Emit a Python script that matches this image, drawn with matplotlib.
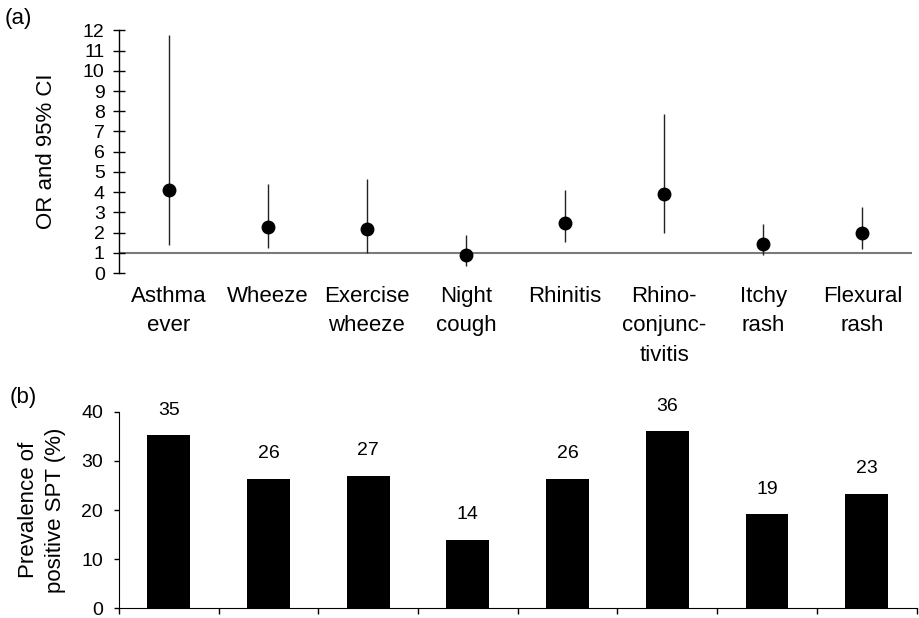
import numpy as np
import matplotlib.pyplot as plt

plt.rcParams['font.family'] = ['Liberation Sans', 'DejaVu Sans']

categories = ['Asthma\never', 'Wheeze', 'Exercise\nwheeze', 'Night\ncough',
              'Rhinitis', 'Rhino-\nconjunc-\ntivitis', 'Itchy\nrash', 'Flexural\nrash']
odds_ratio = [4.1, 2.3, 2.2, 0.9, 2.5, 3.9, 1.45, 2.0]
ci_lower = [1.38, 1.22, 1.0, 0.36, 1.55, 2.0, 0.92, 1.2]
ci_upper = [11.75, 4.4, 4.65, 1.9, 4.1, 7.85, 2.45, 3.27]
prevalence = [35.2, 26.3, 27.0, 13.9, 26.3, 36.0, 19.1, 23.3]
prevalence_labels = ['35', '26', '27', '14', '26', '36', '19', '23']

x = np.arange(len(categories))
fs_big = 16
fs_small = 14

fig = plt.figure(figsize=(9.2, 6.18), dpi=100)

# (a) odds ratios with 95% CI
ax1 = fig.add_axes([0.1293, 0.558, 0.862, 0.393])
yerr = [np.array(odds_ratio) - np.array(ci_lower), np.array(ci_upper) - np.array(odds_ratio)]
ax1.axhline(1, color='#7a7a7a', lw=1.5, zorder=1)
ax1.errorbar(x, odds_ratio, yerr=yerr, fmt='o', color='black', ms=9,
             ecolor='#222222', elinewidth=1, capsize=0, zorder=3)
ax1.set_xlim(-0.5, len(categories) - 0.5)
ax1.set_ylim(0, 12)
ax1.set_yticks(range(0, 13))
ax1.set_xticks(x)
ax1.set_xticklabels(categories, fontsize=fs_big, linespacing=1.55)
ax1.tick_params(axis='x', length=0, pad=9)
ax1.tick_params(axis='y', direction='inout', length=8.5, width=1, labelsize=fs_small, pad=6)
for s in ['top', 'right', 'bottom']:
    ax1.spines[s].set_visible(False)
ax1.spines['left'].set_linewidth(1)
ax1.set_ylabel('OR and 95% CI', fontsize=fs_big, labelpad=19)
fig.text(0.005, 0.97, '(a)', fontsize=fs_big, va='center')

# (b) prevalence of positive SPT
ax2 = fig.add_axes([0.1293, 0.0157, 0.867, 0.3181])
ax2.bar(x, prevalence, width=0.43, color='black')
for xi, v, lab in zip(x, prevalence, prevalence_labels):
    ax2.text(xi, v + 3.4, lab, ha='center', va='bottom', fontsize=fs_small)
ax2.set_xlim(-0.5, len(categories) - 0.5)
ax2.set_ylim(0, 40)
ax2.set_yticks([0, 10, 20, 30, 40])
ax2.set_xticks(np.arange(-0.5, len(categories)))
ax2.set_xticklabels([])
ax2.tick_params(axis='x', direction='out', length=4, width=1)
ax2.tick_params(axis='y', direction='out', length=3.5, width=1, labelsize=fs_small, pad=8)
for s in ['top', 'right']:
    ax2.spines[s].set_visible(False)
ax2.set_ylabel('Prevalence of\npositive SPT (%)', fontsize=fs_big, labelpad=11,
               linespacing=1.35)
fig.text(0.011, 0.356, '(b)', fontsize=fs_big, va='center')

fig.savefig('out.png', dpi=100)
